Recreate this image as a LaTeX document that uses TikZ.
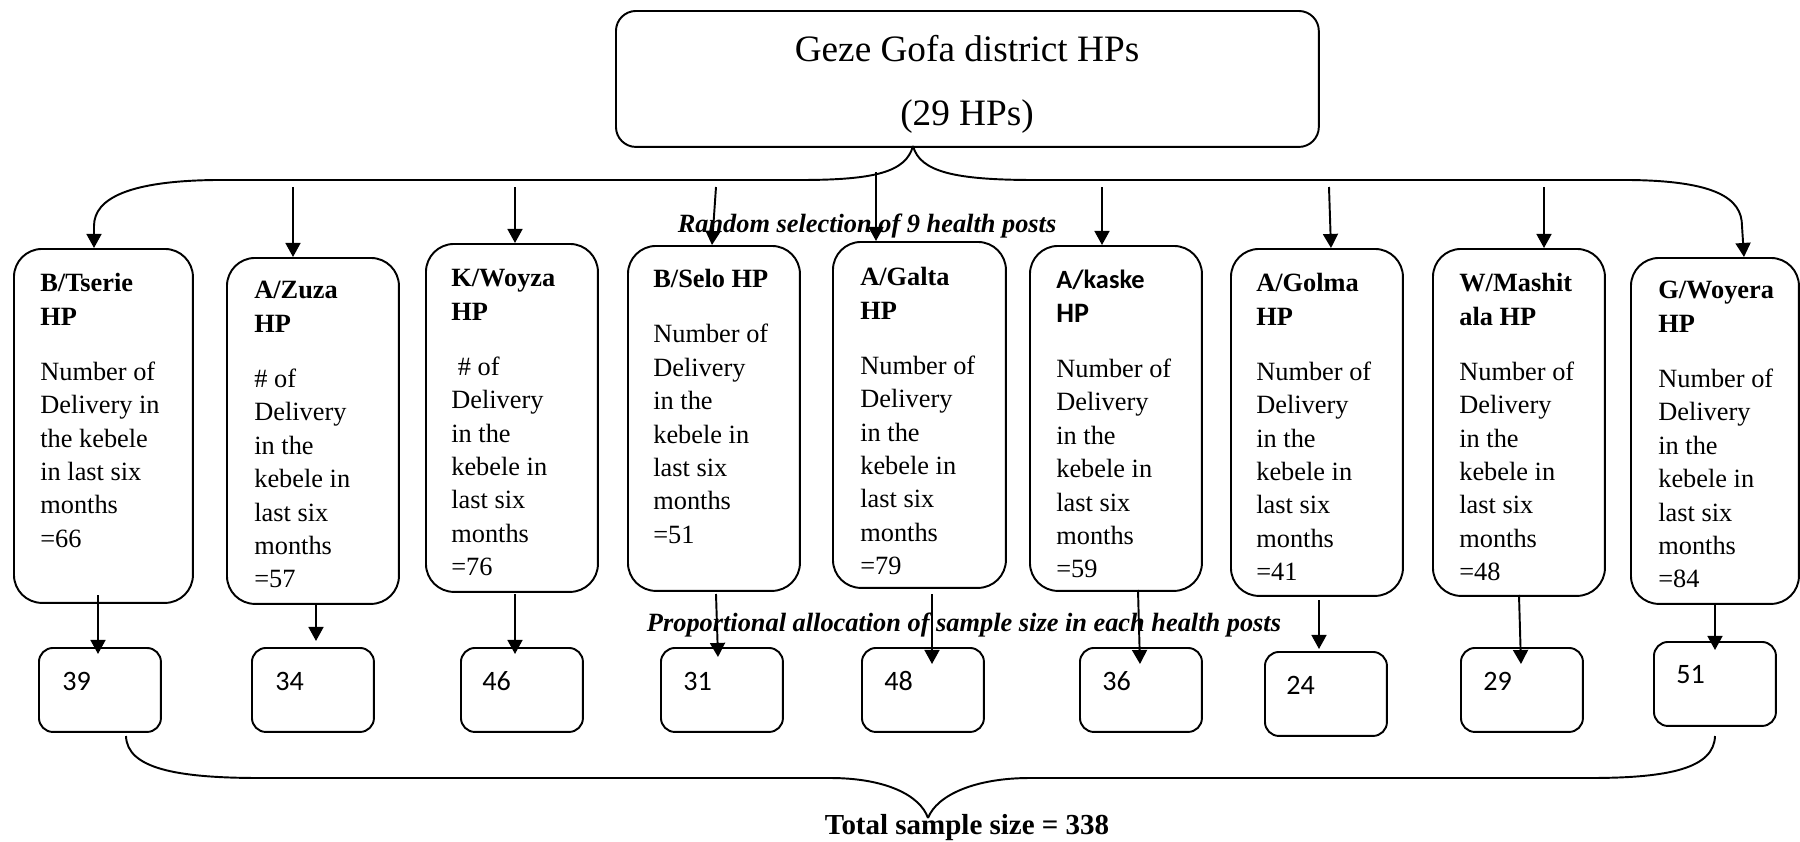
\documentclass[tikz,border=0pt]{standalone}
\usepackage{fontspec}
\setmainfont{Liberation Serif}
\newfontfamily\carlito{Carlito}
\usetikzlibrary{arrows.meta}
\newcommand\bodyfont{\fontsize{15}{19}\selectfont}
\begin{document}
\begin{tikzpicture}[x=0.02cm,y=-0.02cm,
  bigbox/.style={draw, line width=1.1pt, rounded corners=0.56cm, anchor=north west, inner sep=0pt},
  smallbox/.style={draw, line width=1.1pt, rounded corners=0.28cm, anchor=north west, inner sep=0pt, minimum width=2.44cm, minimum height=1.68cm},
  txt/.style={anchor=north west, inner sep=0pt, align=left, font=\bodyfont},
  num/.style={anchor=west, inner sep=0pt, font=\carlito\fontsize{16}{19}\selectfont},
  arr/.style={line width=1.1pt, -{Triangle[length=8pt,width=8.5pt]}},
  link/.style={line width=1.1pt},
  lbl/.style={inner sep=0pt, font=\bodyfont\bfseries\itshape}]
\useasboundingbox (0,0) rectangle (1800,842);

% top box
\node[draw, line width=1.1pt, rounded corners=0.4cm, anchor=north west, inner sep=0pt,
      minimum width=14.06cm, minimum height=2.72cm] (top) at (615,10) {};
\node[inner sep=0pt, font=\fontsize{21.2}{25}\selectfont] (g1) at (967,49) {Geze Gofa district HPs};
\node[inner sep=0pt, font=\fontsize{21.2}{25}\selectfont] (g2) at (967,117) {(29 HPs)};

% big boxes
\node[bigbox, minimum width=3.58cm, minimum height=7.08cm] (b1) at (13,248) {};
\node[bigbox, minimum width=3.44cm, minimum height=6.92cm] (b2) at (226,257) {};
\node[bigbox, minimum width=3.44cm, minimum height=6.96cm] (b3) at (425,243) {};
\node[bigbox, minimum width=3.44cm, minimum height=6.90cm] (b4) at (627,245) {};
\node[bigbox, minimum width=3.46cm, minimum height=6.92cm] (b5) at (832,241) {};
\node[bigbox, minimum width=3.44cm, minimum height=6.90cm] (b6) at (1029,245) {};
\node[bigbox, minimum width=3.44cm, minimum height=6.94cm] (b7) at (1230,248) {};
\node[bigbox, minimum width=3.44cm, minimum height=6.94cm] (b8) at (1432,248) {};
\node[bigbox, minimum width=3.36cm, minimum height=6.92cm] (b9) at (1630,257) {};

% box texts
\node[txt] (t1) at (40,273) {\textbf{B/Tserie}\\\textbf{HP}\\[12.5pt]Number of\\Delivery in\\the kebele\\in last six\\months\\=66};
\node[txt] (t2) at (254,281) {\textbf{A/Zuza}\\\textbf{HP}\\[12.5pt]\# of\\Delivery\\in the\\kebele in\\last six\\months\\=57};
\node[txt] (t3) at (451,269) {\textbf{K/Woyza}\\\textbf{HP}\\[12.5pt]\ \# of\\Delivery\\in the\\kebele in\\last six\\months\\=76};
\node[txt] (t4) at (653,269) {\textbf{B/Selo HP}\\[12.5pt]Number of\\Delivery\\in the\\kebele in\\last six\\months\\=51};
\node[txt] (t5) at (860,267) {\textbf{A/Galta}\\\textbf{HP}\\[12.5pt]Number of\\Delivery\\in the\\kebele in\\last six\\months\\=79};
\node[txt] (t6) at (1056,270) {{\carlito\bfseries A/kaske}\\{\carlito\bfseries\fontsize{16}{19}\selectfont HP}\\[12.5pt]Number of\\Delivery\\in the\\kebele in\\last six\\months\\=59};
\node[txt] (t7) at (1256,273) {\textbf{A/Golma}\\\textbf{HP}\\[12.5pt]Number of\\Delivery\\in the\\kebele in\\last six\\months\\=41};
\node[txt] (t8) at (1459,273) {\textbf{W/Mashit}\\\textbf{ala HP}\\[12.5pt]Number of\\Delivery\\in the\\kebele in\\last six\\months\\=48};
\node[txt] (t9) at (1658,281) {\textbf{G/Woyera}\\\textbf{HP}\\[12.5pt]Number of\\Delivery\\in the\\kebele in\\last six\\months\\=84};

% small boxes
\node[smallbox] (s1) at (38,647) {};
\node[smallbox] (s2) at (251,647) {};
\node[smallbox] (s3) at (460,647) {};
\node[smallbox] (s4) at (660,647) {};
\node[smallbox] (s5) at (861,647) {};
\node[smallbox] (s6) at (1079,647) {};
\node[smallbox] (s7) at (1264,651) {};
\node[smallbox] (s8) at (1460,647) {};
\node[smallbox] (s9) at (1653,641) {};

\node[num] (n1) at (62,681) {39};
\node[num] (n2) at (275,681) {34};
\node[num] (n3) at (482,681) {46};
\node[num] (n4) at (683,681) {31};
\node[num] (n5) at (884,681) {48};
\node[num] (n6) at (1102,681) {36};
\node[num] (n7) at (1286,685) {24};
\node[num] (n8) at (1483,681) {29};
\node[num] (n9) at (1676,675) {51};

% labels
\node[lbl] (l1) at (867,226) {Random selection of 9 health posts};
\node[lbl] (l2) at (964,625) {Proportional allocation of sample size in each health posts};
\node[inner sep=0pt, font=\fontsize{16.5}{19}\selectfont\bfseries] (l3) at (967,828) {Total sample size = 338};

% top brace
\coordinate (tip) at (913,146);
\draw[arr] (tip) .. controls (906,172) and (875,180) .. (800,180) -- (215,180)
   .. controls (130,181) and (94,198) .. (94,226) -- (94,0 |- b1.north);
\draw[arr] (tip) .. controls (920,172) and (955,180) .. (1035,180) -- (1630,180)
   .. controls (1715,181) and (1742,198) .. (1742,226) -- (1744,0 |- b9.north);

% top arrows
\coordinate (c2) at (293,187);
\coordinate (c3) at (515,187);
\coordinate (c4) at (716,187);
\coordinate (c5) at (876,172);
\coordinate (c6) at (1102,187);
\coordinate (c7) at (1329,187);
\coordinate (c8) at (1544,187);
\draw[arr] (c2) -- (c2 |- b2.north);
\draw[arr] (c3) -- (c3 |- b3.north);
\draw[arr] (c4) -- (712,0 |- b4.north);
\draw[arr] (c5) -- (c5 |- b5.north);
\draw[arr] (c6) -- (c6 |- b6.north);
\draw[arr] (c7) -- (1331,0 |- b7.north);
\draw[arr] (c8) -- (c8 |- b8.north);

% bottom arrows
\coordinate (e1) at (98,595);   \coordinate (f1) at (98,654);
\coordinate (e2) at (316,603);  \coordinate (f2) at (316,641);
\coordinate (e3) at (515,594);  \coordinate (f3) at (515,654);
\coordinate (e4) at (716,594);  \coordinate (f4) at (718,657);
\coordinate (e5) at (932,594);  \coordinate (f5) at (932,664);
\coordinate (e6) at (1138,590); \coordinate (f6) at (1140,664);
\coordinate (e7) at (1319,600); \coordinate (f7) at (1319,649);
\coordinate (e8) at (1519,595); \coordinate (f8) at (1521,664);
\coordinate (e9) at (1715,603); \coordinate (f9) at (1715,650);
\foreach \i in {1,...,9} { \draw[arr] (e\i) -- (f\i); }

% bottom brace
\coordinate (bl) at (126,736);
\coordinate (br) at (1715,736);
\coordinate (bt) at (928,818);
\draw[link] (bl) .. controls (127,768) and (175,778) .. (260,778) -- (830,778)
   .. controls (885,778) and (920,795) .. (bt);
\draw[link] (br) .. controls (1714,768) and (1670,778) .. (1590,778) -- (1030,778)
   .. controls (975,778) and (937,795) .. (bt);
\end{tikzpicture}
\end{document}
